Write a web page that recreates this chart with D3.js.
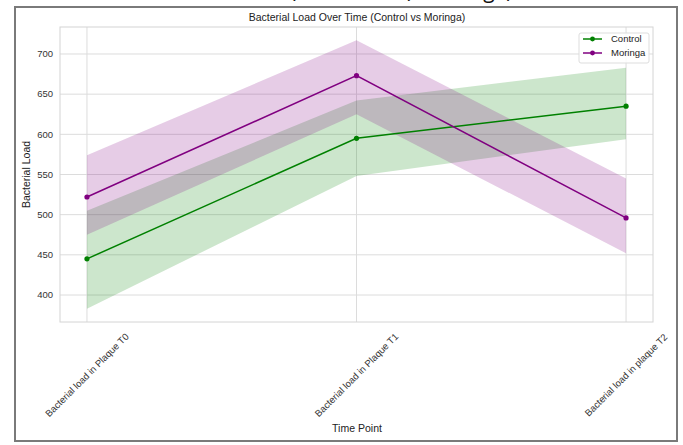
<!DOCTYPE html>
<html>
<head>
<meta charset="utf-8">
<script src="https://cdn.jsdelivr.net/npm/d3@7"></script>
<style>
  body { margin: 0; background: #fff; }
  svg { display: block; font-family: "Liberation Sans", Arial, sans-serif; }
</style>
</head>
<body>
<svg id="chart" width="683" height="445"></svg>
<script>
// values
var timePoints = ['Bacterial load in Plaque T0', 'Bacterial load in Plaque T1', 'Bacterial load in plaque T2'];
var controlMean = [445, 595, 635];
var controlLow = [383, 548, 594];
var controlHigh = [505, 642, 683];
var moringaMean = [522, 673, 496];
var moringaLow = [475, 625, 452];
var moringaHigh = [574, 717, 545];
var yTicks = [400, 450, 500, 550, 600, 650, 700];

var series = [
  { name: 'Control', color: 'green', mean: controlMean, low: controlLow, high: controlHigh },
  { name: 'Moringa', color: 'purple', mean: moringaMean, low: moringaLow, high: moringaHigh }
];

var svg = d3.select('#chart');
var plot = { left: 60, right: 653, top: 27, bottom: 322 };

var x = d3.scaleLinear().domain([-0.1, 2.1]).range([plot.left, plot.right]);
var y = d3.scaleLinear().domain([366.4, 733.6]).range([plot.bottom, plot.top]);

// bits of the document text above the figure, cut off by the crop
var cut = svg.append('text')
  .attr('y', -2)
  .style('font-family', '"Open Sans", sans-serif')
  .style('font-size', '21px')
  .attr('fill', '#111');
cut.append('tspan').attr('x', 290).text('(Control');
cut.append('tspan').attr('x', 407).text(')');
cut.append('tspan').attr('x', 425).text('Moringa)');

// figure frame
svg.append('rect')
  .attr('x', 15).attr('y', 7)
  .attr('width', 662).attr('height', 434)
  .attr('fill', 'none')
  .attr('stroke', '#7a7a7a')
  .attr('stroke-width', 2);

// grid
svg.append('g').selectAll('line.h')
  .data(yTicks)
  .enter().append('line')
  .attr('x1', plot.left).attr('x2', plot.right)
  .attr('y1', function(d) { return y(d); })
  .attr('y2', function(d) { return y(d); })
  .attr('stroke', '#dcdcdc');

svg.append('g').selectAll('line.v')
  .data(timePoints)
  .enter().append('line')
  .attr('x1', function(d, i) { return x(i); })
  .attr('x2', function(d, i) { return x(i); })
  .attr('y1', plot.top).attr('y2', plot.bottom)
  .attr('stroke', '#dcdcdc');

svg.append('rect')
  .attr('x', plot.left).attr('y', plot.top)
  .attr('width', plot.right - plot.left).attr('height', plot.bottom - plot.top)
  .attr('fill', 'none')
  .attr('stroke', '#d4d4d4');

// bands
var area = d3.area()
  .x(function(d) { return x(d.i); })
  .y0(function(d) { return y(d.lo); })
  .y1(function(d) { return y(d.hi); });

series.forEach(function(s) {
  var pts = s.mean.map(function(m, i) { return { i: i, lo: s.low[i], hi: s.high[i] }; });
  svg.append('path')
    .attr('d', area(pts))
    .attr('fill', s.color)
    .attr('fill-opacity', 0.2);
});

// lines + markers
var line = d3.line()
  .x(function(d, i) { return x(i); })
  .y(function(d) { return y(d); });

series.forEach(function(s) {
  svg.append('path')
    .attr('d', line(s.mean))
    .attr('fill', 'none')
    .attr('stroke', s.color)
    .attr('stroke-width', 1.5);
  svg.append('g').selectAll('circle')
    .data(s.mean)
    .enter().append('circle')
    .attr('cx', function(d, i) { return x(i); })
    .attr('cy', function(d) { return y(d); })
    .attr('r', 2.6)
    .attr('fill', s.color);
});

// y tick labels
svg.append('g').selectAll('text')
  .data(yTicks)
  .enter().append('text')
  .attr('x', 53)
  .attr('y', function(d) { return y(d); })
  .attr('dy', '0.35em')
  .attr('text-anchor', 'end')
  .style('font-size', '9.5px')
  .attr('fill', '#333')
  .text(function(d) { return d; });

// x tick labels, rotated 45 and centred on the tick
svg.append('g').selectAll('text')
  .data(timePoints)
  .enter().append('text')
  .attr('transform', function(d, i) { return 'translate(' + x(i) + ',375) rotate(-45)'; })
  .attr('text-anchor', 'middle')
  .attr('dy', '0.35em')
  .style('font-size', '9.5px')
  .attr('fill', '#333')
  .text(function(d) { return d; });

// titles
svg.append('text')
  .attr('x', 357).attr('y', 21)
  .attr('text-anchor', 'middle')
  .style('font-size', '10.5px')
  .attr('fill', '#222')
  .text('Bacterial Load Over Time (Control vs Moringa)');

svg.append('text')
  .attr('transform', 'translate(30,' + (plot.top + plot.bottom) / 2 + ') rotate(-90)')
  .attr('text-anchor', 'middle')
  .style('font-size', '10.5px')
  .attr('fill', '#222')
  .text('Bacterial Load');

svg.append('text')
  .attr('x', 357).attr('y', 432)
  .attr('text-anchor', 'middle')
  .style('font-size', '10.5px')
  .attr('fill', '#222')
  .text('Time Point');

// legend
var legend = svg.append('g').attr('transform', 'translate(579,33)');
legend.append('rect')
  .attr('width', 70).attr('height', 30)
  .attr('rx', 2)
  .attr('fill', 'rgba(255,255,255,0.85)')
  .attr('stroke', '#ddd');

var item = legend.selectAll('g.item')
  .data(series)
  .enter().append('g')
  .attr('transform', function(d, i) { return 'translate(0,' + (6 + i * 14) + ')'; });
item.append('line')
  .attr('x1', 4).attr('x2', 23)
  .attr('stroke', function(d) { return d.color; })
  .attr('stroke-width', 1.5);
item.append('circle')
  .attr('cx', 13.5).attr('r', 2.4)
  .attr('fill', function(d) { return d.color; });
item.append('text')
  .attr('x', 32)
  .attr('dy', '0.35em')
  .style('font-size', '9.5px')
  .attr('fill', '#222')
  .text(function(d) { return d.name; });
</script>
</body>
</html>
